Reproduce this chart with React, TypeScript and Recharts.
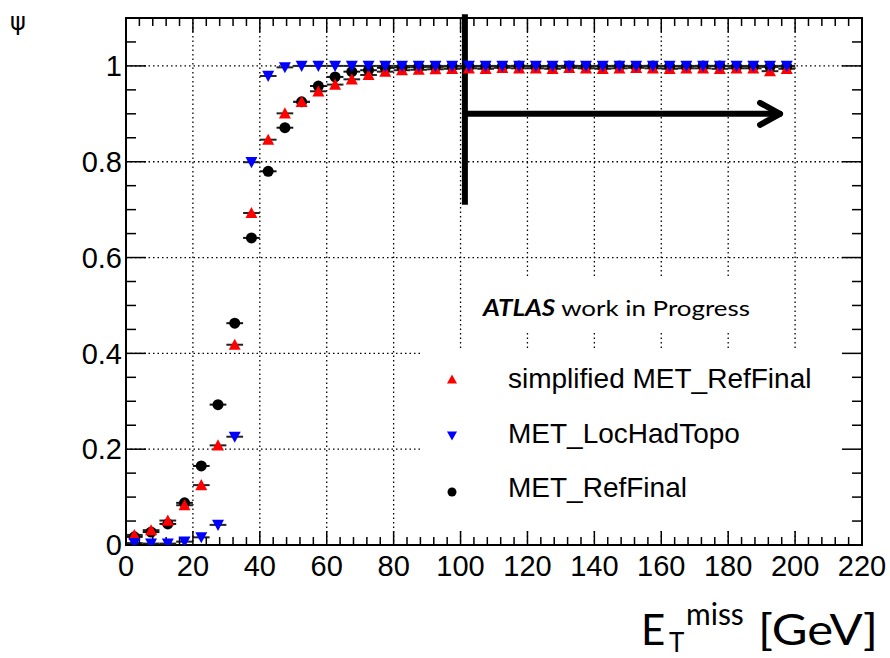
import React from 'react';
import {
  ScatterChart,
  Scatter,
  XAxis,
  YAxis,
  CartesianGrid,
  ErrorBar,
  ReferenceLine,
  ReferenceArea,
} from 'recharts';

// ---- data ----
const binCenters = [
  2.5, 7.5, 12.5, 17.5, 22.5, 27.5, 32.5, 37.5, 42.5, 47.5,
  52.5, 57.5, 62.5, 67.5, 72.5, 77.5, 82.5, 87.5, 92.5, 97.5,
  102.5, 107.5, 112.5, 117.5, 122.5, 127.5, 132.5, 137.5, 142.5, 147.5,
  152.5, 157.5, 162.5, 167.5, 172.5, 177.5, 182.5, 187.5, 192.5, 197.5,
];
const binHalfWidth = 2.5;

const metRefFinal = [
  0.017, 0.027, 0.044, 0.088, 0.165, 0.293, 0.463, 0.641, 0.78, 0.871,
  0.925, 0.958, 0.977, 0.988, 0.991, 0.996, 0.997, 0.998, 0.998, 0.999,
  0.999, 0.999, 0.999, 1.0, 0.999, 0.999, 1.0, 0.999, 0.999, 1.0,
  0.999, 1.0, 0.999, 0.999, 1.0, 1.0, 0.999, 0.999, 0.998, 0.999,
];
const simplifiedRefFinal = [
  0.021, 0.031, 0.051, 0.083, 0.125, 0.208, 0.418, 0.693, 0.846, 0.901,
  0.925, 0.947, 0.961, 0.972, 0.981, 0.988, 0.991, 0.992, 0.993, 0.994,
  0.995, 0.994, 0.996, 0.995, 0.995, 0.994, 0.996, 0.995, 0.994, 0.995,
  0.996, 0.995, 0.994, 0.995, 0.995, 0.994, 0.995, 0.995, 0.989, 0.994,
];
const metLocHadTopo = [
  0.004, 0.003, 0.003, 0.007, 0.016, 0.042, 0.226, 0.799, 0.979, 0.997,
  1.0, 1.0, 1.0, 1.0, 1.0, 1.0, 1.0, 1.0, 1.0, 1.0,
  1.0, 1.0, 1.0, 1.0, 1.0, 1.0, 1.0, 1.0, 1.0, 1.0,
  1.0, 1.0, 1.0, 1.0, 1.0, 1.0, 1.0, 1.0, 1.0, 1.0,
];

const xTicks = [0, 20, 40, 60, 80, 100, 120, 140, 160, 180, 200, 220];
const yTicks = [0, 0.2, 0.4, 0.6, 0.8, 1];
const xDomain: [number, number] = [0, 220];
const yDomain: [number, number] = [0, 1.1];

const legendLabels = ['simplified MET_RefFinal', 'MET_LocHadTopo', 'MET_RefFinal'];
const cutValue = 101.3;

// ---- layout ----
const W = 890;
const H = 658;
const margin = { top: 18, right: 28, bottom: 73, left: 66 };
const yAxisWidth = 60;
const xAxisHeight = 40;
const plotW = W - margin.left - margin.right - yAxisWidth;
const plotH = H - margin.top - margin.bottom - xAxisHeight;
const pxPerX = plotW / (xDomain[1] - xDomain[0]);
const pxPerY = plotH / (yDomain[1] - yDomain[0]);

const build = (vals: number[]) =>
  binCenters.map((x, i) => ({ x, y: vals[i], xErr: binHalfWidth }));

const dataRef = build(metRefFinal);
const dataSimp = build(simplifiedRefFinal);
const dataLoc = build(metLocHadTopo);

const S = 6;
const TriUp = (props: any) => {
  const { cx, cy } = props;
  return (
    <polygon
      points={`${cx},${cy - S} ${cx + S},${cy + S * 0.85} ${cx - S},${cy + S * 0.85}`}
      fill="#ff0000"
    />
  );
};
const TriDown = (props: any) => {
  const { cx, cy } = props;
  return (
    <polygon
      points={`${cx},${cy + S} ${cx + S},${cy - S * 0.85} ${cx - S},${cy - S * 0.85}`}
      fill="#0000ff"
    />
  );
};
const Dot = (props: any) => {
  const { cx, cy } = props;
  return <circle cx={cx} cy={cy} r={5.5} fill="#000" />;
};

// tick mark positions (inward ticks on all four sides)
const range = (a: number, b: number, step: number) => {
  const out: number[] = [];
  for (let v = a; v <= b + 1e-9; v += step) out.push(Math.round(v * 1000) / 1000);
  return out;
};
const xTickPos = range(0, 220, 4);
const yTickPos = range(0, 1.1, 0.05);

const isMajorX = (v: number) => Math.abs(v / 20 - Math.round(v / 20)) < 1e-6;
const isMajorY = (v: number) => Math.abs(v / 0.2 - Math.round(v / 0.2)) < 1e-6;

export default function App() {
  const tickLines: React.ReactNode[] = [];
  xTickPos.forEach((v, i) => {
    const len = (isMajorX(v) ? 14 : 8) / pxPerY;
    tickLines.push(
      <ReferenceLine
        key={`xb${i}`}
        segment={[{ x: v, y: yDomain[0] }, { x: v, y: yDomain[0] + len }]}
        stroke="#000"
        strokeWidth={1.5}
        ifOverflow="visible"
      />,
      <ReferenceLine
        key={`xt${i}`}
        segment={[{ x: v, y: yDomain[1] }, { x: v, y: yDomain[1] - len }]}
        stroke="#000"
        strokeWidth={1.5}
        ifOverflow="visible"
      />
    );
  });
  yTickPos.forEach((v, i) => {
    const len = (isMajorY(v) ? 20 : 10) / pxPerX;
    tickLines.push(
      <ReferenceLine
        key={`yl${i}`}
        segment={[{ x: xDomain[0], y: v }, { x: xDomain[0] + len, y: v }]}
        stroke="#000"
        strokeWidth={1.5}
        ifOverflow="visible"
      />,
      <ReferenceLine
        key={`yr${i}`}
        segment={[{ x: xDomain[1], y: v }, { x: xDomain[1] - len, y: v }]}
        stroke="#000"
        strokeWidth={1.5}
        ifOverflow="visible"
      />
    );
  });

  const arrowY = 0.9;
  const arrowTip = 195.5;
  const headDx = 20 / pxPerX;
  const headDy = 11 / pxPerY;

  return (
    <div style={{ position: 'absolute', left: 0, top: 0, width: W, height: H, background: '#fff' }}>
      <ScatterChart width={W} height={H} margin={margin}>
        <CartesianGrid
          stroke="#000"
          strokeWidth={1.3}
          strokeDasharray="1.5 3"
          horizontalValues={yTicks}
          verticalValues={xTicks}
        />
        <XAxis
          type="number"
          dataKey="x"
          domain={xDomain}
          ticks={xTicks}
          height={xAxisHeight}
          tickLine={false}
          axisLine={false}
          tickSize={0}
          tickMargin={10}
          interval={0}
          tick={{ fontSize: 29, fill: '#000', fontFamily: 'Liberation Sans, Arial, sans-serif' }}
          allowDataOverflow
        />
        <YAxis
          type="number"
          dataKey="y"
          domain={yDomain}
          ticks={yTicks}
          width={yAxisWidth}
          tickLine={false}
          axisLine={false}
          tickSize={0}
          tickMargin={4}
          interval={0}
          tickFormatter={(v: number) => String(Math.round(v * 10) / 10)}
          tick={{ fontSize: 29, fill: '#000', fontFamily: 'Liberation Sans, Arial, sans-serif' }}
          allowDataOverflow
        />
        {/* white boxes behind the text blocks */}
        <ReferenceArea x1={101.8} x2={198.5} y1={0.445} y2={0.557} fill="#fff" fillOpacity={1} stroke="none" />
        <ReferenceArea x1={88} x2={219.6} y1={0.035} y2={0.411} fill="#fff" fillOpacity={1} stroke="none" />

        <Scatter data={dataRef} shape={Dot} isAnimationActive={false}>
          <ErrorBar dataKey="xErr" direction="x" width={0} stroke="#111" strokeWidth={2} />
        </Scatter>
        <Scatter data={dataSimp} shape={TriUp} isAnimationActive={false}>
          <ErrorBar dataKey="xErr" direction="x" width={0} stroke="#222" strokeWidth={2} />
        </Scatter>
        <Scatter data={dataLoc} shape={TriDown} isAnimationActive={false}>
          <ErrorBar dataKey="xErr" direction="x" width={0} stroke="#222" strokeWidth={2} />
        </Scatter>

        {/* frame */}
        <ReferenceArea
          x1={xDomain[0]}
          x2={xDomain[1]}
          y1={yDomain[0]}
          y2={yDomain[1]}
          fill="none"
          stroke="#000"
          strokeWidth={2}
          ifOverflow="visible"
        />
        {tickLines}

        {/* cut line and arrow */}
        <ReferenceLine
          segment={[{ x: cutValue, y: 0.71 }, { x: cutValue, y: 1.108 }]}
          stroke="#000"
          strokeWidth={6}
          ifOverflow="visible"
        />
        <ReferenceLine
          segment={[{ x: cutValue, y: arrowY }, { x: arrowTip - 1 / pxPerX, y: arrowY }]}
          stroke="#000"
          strokeWidth={6}
          ifOverflow="visible"
        />
        <ReferenceLine
          segment={[{ x: arrowTip - headDx, y: arrowY + headDy }, { x: arrowTip, y: arrowY }]}
          stroke="#000"
          strokeWidth={6}
          strokeLinecap="round"
          ifOverflow="visible"
        />
        <ReferenceLine
          segment={[{ x: arrowTip - headDx, y: arrowY - headDy }, { x: arrowTip, y: arrowY }]}
          stroke="#000"
          strokeWidth={6}
          strokeLinecap="round"
          ifOverflow="visible"
        />
      </ScatterChart>

      <svg
        width={W}
        height={H}
        style={{ position: 'absolute', left: 0, top: 0, pointerEvents: 'none' }}
      >
        {/* y axis title */}
        <text x={10} y={30} fontSize={24} fontFamily="DejaVu Sans, sans-serif" fill="#000">
          ψ
        </text>

        {/* ATLAS label */}
        <text
          x={483}
          y={316}
          fontSize={22}
          fontFamily="Lato, sans-serif"
          fill="#000"
          textLength={267}
          lengthAdjust="spacingAndGlyphs"
        >
          <tspan fontWeight="bold" fontStyle="italic">ATLAS</tspan>
          <tspan> work in Progress</tspan>
        </text>

        {/* legend */}
        <polygon points="452,374.5 457,383.5 447,383.5" fill="#ff0000" />
        <polygon points="452,440.5 457,431.5 447,431.5" fill="#0000ff" />
        <circle cx={452} cy={492} r={4.5} fill="#000" />
        {legendLabels.map((t, i) => (
          <text
            key={t}
            x={508}
            y={[388, 443, 497][i]}
            fontSize={28}
            fontFamily="Liberation Sans, Arial, sans-serif"
            fill="#000"
          >
            {t}
          </text>
        ))}

        {/* x axis title */}
        <text x={641} y={645} fontSize={42} fontFamily="Lato, sans-serif" fill="#000">E</text>
        <text x={669} y={652} fontSize={26} fontFamily="Lato, sans-serif" fill="#000">T</text>
        <text x={686} y={625} fontSize={30} fontFamily="Lato, sans-serif" fill="#000">miss</text>
        <text
          x={758}
          y={645}
          fontSize={42}
          fontFamily="Lato, sans-serif"
          fill="#000"
          textLength={120}
          lengthAdjust="spacingAndGlyphs"
        >
          [GeV]
        </text>
      </svg>
    </div>
  );
}
